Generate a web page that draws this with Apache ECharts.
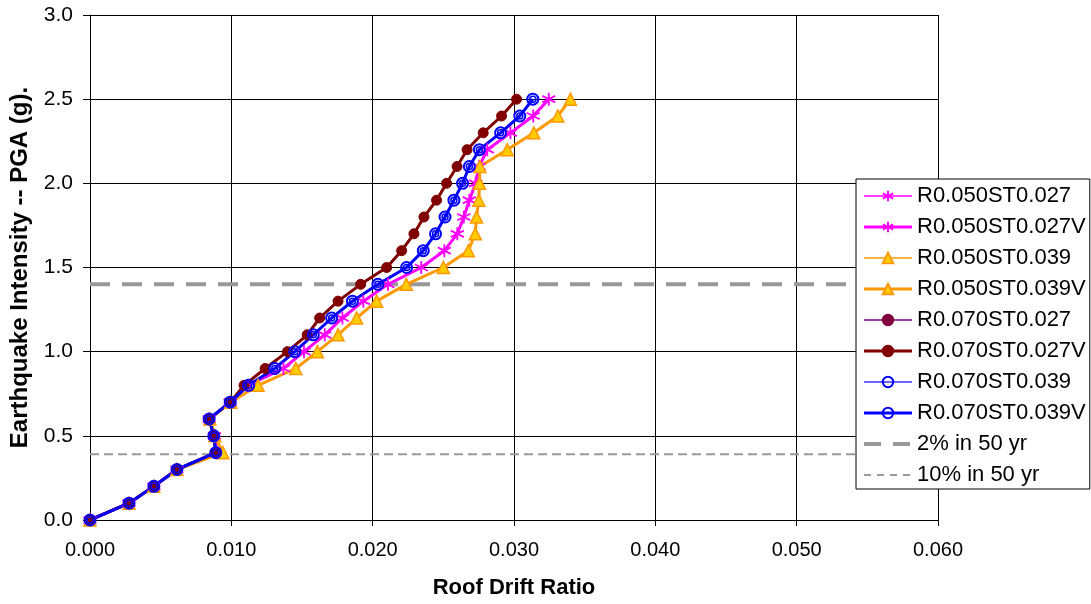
<!DOCTYPE html>
<html>
<head>
<meta charset="utf-8">
<script src="https://cdn.jsdelivr.net/npm/echarts@6/dist/echarts.min.js"></script>
<style>
html,body{margin:0;padding:0;background:#fff;}
#chart{width:1091px;height:604px;}
</style>
</head>
<body>
<div id="chart"></div>
<script>
// PGA levels (g)
const pgaLevels = [0,0.1,0.2,0.3,0.4,0.5,0.6,0.7,0.8,0.9,1.0,1.1,1.2,1.3,1.4,1.5,1.6,1.7,1.8,1.9,2.0,2.1,2.2,2.3,2.4,2.5];
// Roof drift ratios
const driftR050ST027 = [0,0.00276,0.00452,0.00615,0.0090,0.0088,0.00843,0.00992,0.01117,0.01369,0.01514,0.01661,0.01786,0.01934,0.02108,0.02344,0.02507,0.02599,0.02645,0.02684,0.02728,0.02753,0.02811,0.02975,0.03136,0.03246];
const driftR050ST039 = [0,0.00276,0.00452,0.00615,0.0094,0.00883,0.00848,0.00996,0.01189,0.01456,0.01609,0.01755,0.01887,0.02028,0.02238,0.02500,0.02677,0.02726,0.02735,0.02751,0.02756,0.02758,0.02952,0.03140,0.03310,0.03399];
const driftR070ST027 = [0,0.00276,0.00452,0.00615,0.0089,0.00876,0.00843,0.00992,0.01090,0.01239,0.01397,0.01537,0.01625,0.01755,0.01915,0.02099,0.02205,0.02292,0.02363,0.02452,0.02523,0.02597,0.02668,0.02782,0.02912,0.03018];
const driftR070ST039 = [0,0.00276,0.00452,0.00615,0.0089,0.00876,0.00843,0.00992,0.01122,0.01307,0.01449,0.01580,0.01710,0.01857,0.02037,0.02240,0.02358,0.02445,0.02512,0.02575,0.02636,0.02684,0.02755,0.02905,0.03041,0.03133];
// hazard levels
const hazard2in50 = 1.4;
const hazard10in50 = 0.39;
const hazardXRange = [0, 0.06];
const xTicks = {min:0, max:0.06, interval:0.01};
const yTicks = {min:0, max:3, interval:0.5};

const FONT = '"Liberation Sans", Arial, sans-serif';
const star = 'path://M10 0L10 20M1.34 5L18.66 15M1.34 15L18.66 5';

function pts(xs){ return xs.map((x,i)=>[x,pgaLevels[i]]); }

function curve(name, xs, o){
  return {
    name: name, type:'line', data: pts(xs),
    symbol: o.symbol, symbolSize: o.size,
    lineStyle:{color:o.line, width:o.width},
    itemStyle:{color:o.fill, borderColor:o.border, borderWidth:o.bw},
    emphasis:{disabled:true}, z: o.z || 2
  };
}
function hline(name, y, w, dash){
  return {
    name:name, type:'line', data: hazardXRange.map(x=>[x,y]),
    symbol:'none', lineStyle:{color:'#999999', width:w, type:dash},
    itemStyle:{color:'#999999'}, emphasis:{disabled:true}, z:1
  };
}

const series = [
  curve('R0.050ST0.027', driftR050ST027, {symbol:star, size:8, line:'#FF00FF', width:1.5, fill:'#FF00FF', border:'#FF00FF', bw:1.2}),
  curve('R0.050ST0.027V', driftR050ST027, {symbol:star, size:13, line:'#FF00FF', width:3, fill:'#FF00FF', border:'#FF00FF', bw:1.8}),
  curve('R0.050ST0.039', driftR050ST039, {symbol:'triangle', size:7, line:'#FF9900', width:1.5, fill:'#FFCC00', border:'#FF9900', bw:1}),
  curve('R0.050ST0.039V', driftR050ST039, {symbol:'triangle', size:12, line:'#FF9900', width:3, fill:'#FFCC00', border:'#FF9900', bw:1.5}),
  curve('R0.070ST0.027', driftR070ST027, {symbol:'circle', size:6, line:'#800080', width:1.5, fill:'#800040', border:'#800040', bw:1}),
  curve('R0.070ST0.027V', driftR070ST027, {symbol:'circle', size:10, line:'#800000', width:3, fill:'#800000', border:'#800000', bw:1}),
  curve('R0.070ST0.039', driftR070ST039, {symbol:'circle', size:6, line:'#3333FF', width:1.5, fill:'rgba(0,0,0,0)', border:'#0000FF', bw:1.5}),
  curve('R0.070ST0.039V', driftR070ST039, {symbol:'circle', size:11, line:'#0000FF', width:3, fill:'rgba(0,0,0,0)', border:'#0000FF', bw:2}),
  hline('2% in 50 yr', hazard2in50, 4, [20,12]),
  hline('10% in 50 yr', hazard10in50, 2, [9,5])
];

const legendData = series.map(s=>{
  const item = {name:s.name, lineStyle:{width:s.lineStyle.width}};
  if (s.symbol === 'none') {
    item.itemStyle = {opacity:0};
    item.lineStyle = {width:s.lineStyle.width, type: s.lineStyle.width > 3 ? [17,12] : [7,6], color:'#999999'};
  }
  return item;
});

const chart = echarts.init(document.getElementById('chart'), null, {renderer:'canvas'});
chart.setOption({
  animation:false,
  backgroundColor:'#ffffff',
  textStyle:{fontFamily:FONT, color:'#000'},
  grid:{left:89, right:153, top:15, bottom:84, containLabel:false},
  legend:{
    orient:'vertical', left:856, top:179,
    backgroundColor:'#ffffff', borderColor:'#000000', borderWidth:1,
    padding:[6,4,3,6], itemWidth:48, itemHeight:13, itemGap:9,
    textStyle:{fontFamily:FONT, fontSize:22, color:'#000', lineHeight:22},
    data: legendData
  },
  xAxis:{
    type:'value', min:xTicks.min, max:xTicks.max, interval:xTicks.interval,
    name:'Roof Drift Ratio', nameLocation:'middle', nameGap:57,
    nameTextStyle:{fontFamily:FONT, fontSize:22, fontWeight:'bold', color:'#000'},
    axisLine:{show:true, onZero:false, lineStyle:{color:'#000', width:1}},
    axisTick:{show:true, inside:false, length:6, lineStyle:{color:'#000'}},
    axisLabel:{margin:20, fontFamily:'"Liberation Sans Narrow", "Arial Narrow", "Liberation Sans", sans-serif', fontSize:20, color:'#000', formatter:v=>v.toFixed(3)},
    splitLine:{show:true, lineStyle:{color:'#000', width:1}}
  },
  yAxis:{
    type:'value', min:yTicks.min, max:yTicks.max, interval:yTicks.interval,
    name:'Earthquake Intensity -- PGA (g).', nameLocation:'middle', nameGap:58,
    nameTextStyle:{fontFamily:FONT, fontSize:24, fontWeight:'bold', color:'#000'},
    axisLine:{show:true, onZero:false, lineStyle:{color:'#000', width:1}},
    axisTick:{show:true, inside:false, length:7, lineStyle:{color:'#000'}},
    axisLabel:{margin:17, fontFamily:FONT, fontSize:21, color:'#000', formatter:v=>v.toFixed(1)},
    splitLine:{show:true, lineStyle:{color:'#000', width:1}}
  },
  series: series
});
</script>
</body>
</html>
